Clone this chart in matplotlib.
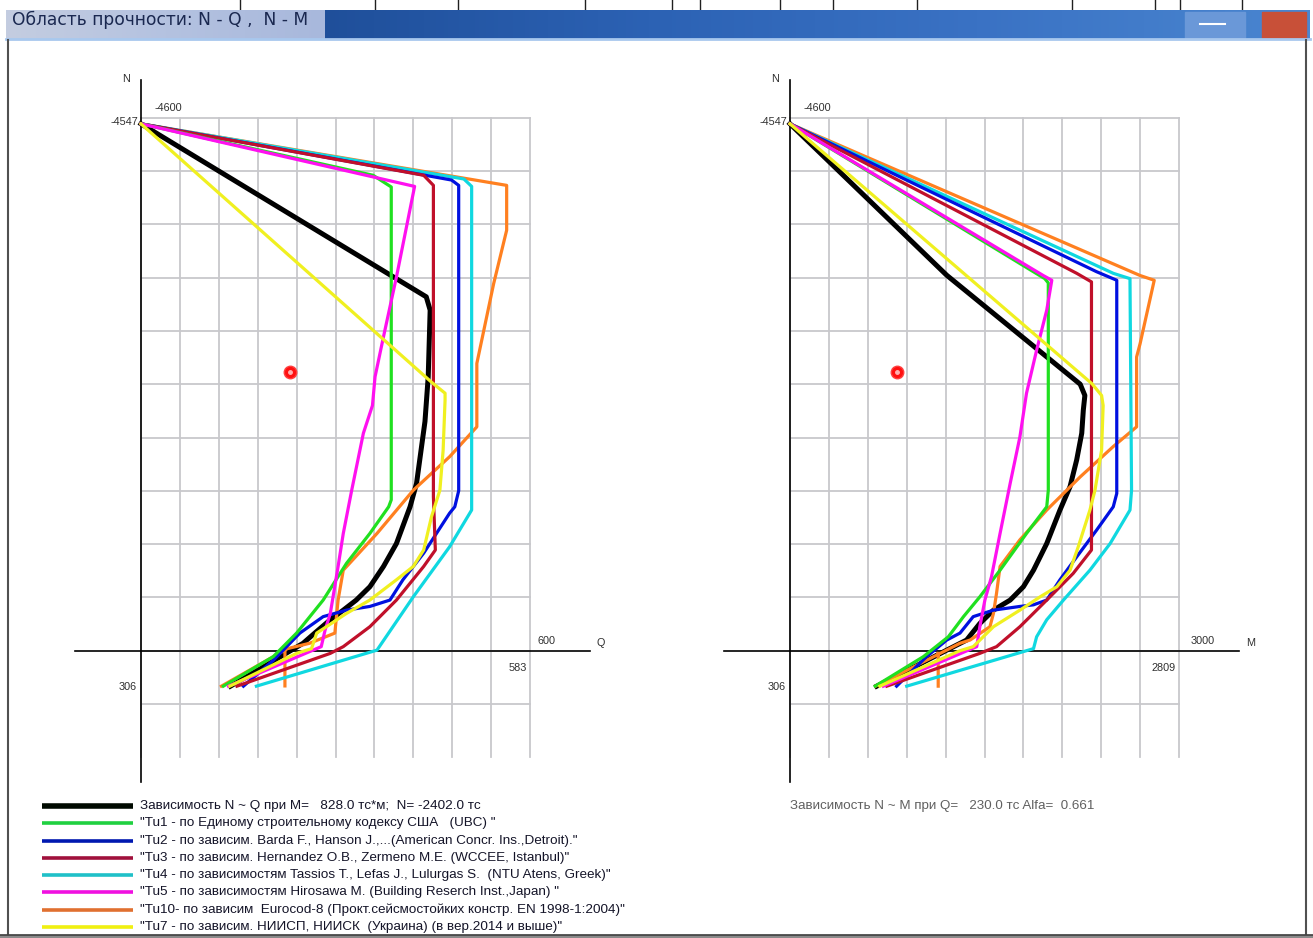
import numpy as np
import matplotlib
matplotlib.use("Agg")
import matplotlib.pyplot as plt
from matplotlib.patches import Rectangle
from matplotlib.colors import LinearSegmentedColormap

plt.rcParams['font.family'] = ['Liberation Sans', 'DejaVu Sans']

# ---------------- data: N ~ Q (left panel) ----------------
q_black = [0, 440, 446, 443, 438, 425, 415, 394, 374, 353, 332, 312, 292, 268, 250, 138]
n_black = [-4547, -3054, -2939, -2364, -1978, -1444, -1242, -925, -727, -552, -437, -350, -267, -152, -64, 306]

q_tu1 = [0, 358, 386, 386, 382, 353, 317, 281, 240, 204, 127]
n_tu1 = [-4547, -4103, -4002, -1302, -1242, -1012, -754, -437, -152, 51, 306]

q_tu2 = [0, 479, 490, 490, 484, 476, 436, 404, 384, 353, 317, 281, 245, 204, 158]
n_tu2 = [-4547, -4062, -4016, -1380, -1242, -1187, -842, -612, -437, -382, -350, -294, -152, 83, 306]

q_tu3 = [0, 436, 451, 451, 454, 436, 394, 353, 312, 292, 148]
n_tu3 = [-4547, -4103, -4016, -1329, -869, -727, -437, -207, -35, 23, 306]

q_tu4 = [0, 498, 510, 510, 476, 420, 364, 178]
n_tu4 = [-4547, -4071, -4007, -1214, -897, -465, -5, 306]

q_tu5 = [0, 422, 394, 374, 361, 357, 343, 325, 312, 304, 292, 284, 278, 135]
n_tu5 = [-4547, -4007, -3225, -2709, -2364, -2116, -1877, -1385, -1012, -727, -322, -179, -35, 306]

q_tu10 = [0, 564, 564, 544, 518, 518, 476, 420, 364, 312, 304, 299, 260, 226, 124, np.nan, 222, 222]
n_tu10 = [-4547, -4016, -3629, -3169, -2479, -1932, -1674, -1385, -1012, -695, -437, -152, -64, -18, 306, np.nan, 0, 304]

q_tu7 = [0, 448, 469, 469, 466, 461, 448, 436, 420, 394, 353, 317, 286, 271, 263, 240, 137]
n_tu7 = [-4547, -2318, -2222, -2162, -1730, -1385, -1155, -869, -727, -612, -437, -322, -207, -152, -18, 23, 306]

# ---------------- data: N ~ M (right panel) ----------------
m_black = [0, 1209, 2238, 2274, 2262, 2250, 2211, 2160, 2082, 1980, 1878, 1800, 1698, 1569, 1464, 1362, 1209, 669]
nm_black = [-4547, -3240, -2300, -2203, -2075, -1877, -1647, -1417, -1214, -925, -695, -552, -437, -350, -235, -92, -5, 306]

m_tu1 = [0, 1965, 1992, 1992, 1980, 1824, 1620, 1464, 1338, 1221, 1029, 657]
nm_tu1 = [-4547, -3211, -3174, -1385, -1242, -1012, -695, -465, -294, -120, 51, 306]

m_tu2 = [0, 2364, 2520, 2520, 2493, 2364, 2211, 2082, 1980, 1878, 1773, 1569, 1413, 1311, 1209, 1053, 822]
nm_tu2 = [-4547, -3271, -3197, -1357, -1242, -1040, -810, -612, -437, -396, -382, -350, -294, -152, -92, 51, 306]

m_tu3 = [0, 2211, 2325, 2325, 2184, 1980, 1773, 1593, 1464, 747]
nm_tu3 = [-4547, -3257, -3183, -869, -667, -437, -207, -35, 23, 306]

m_tu4 = [0, 2493, 2622, 2634, 2622, 2469, 2313, 2109, 1980, 1902, 1878, 900]
nm_tu4 = [-4547, -3257, -3211, -1385, -1214, -925, -695, -437, -267, -120, -18, 306]

m_tu5 = [0, 1953, 2019, 1980, 1902, 1824, 1773, 1698, 1620, 1554, 1503, 1464, 1440, 720]
nm_tu5 = [-4547, -3238, -3197, -2939, -2594, -2222, -1845, -1444, -1012, -639, -437, -207, -35, 306]

m_tu10 = [0, 2700, 2809, 2700, 2673, 2673, 2493, 2238, 1980, 1773, 1620, 1593, 1569, 1542, 1389, 1311, 660,
          np.nan, 1143, 1143]
nm_tu10 = [-4547, -3238, -3197, -2650, -2535, -1932, -1762, -1500, -1214, -957, -727, -497, -322, -207, -92, -64, 306,
           np.nan, 23, 306]

m_tu7 = [0, 2328, 2403, 2415, 2403, 2352, 2313, 2223, 2160, 2058, 1929, 1773, 1569, 1413, 1311, 693]
nm_tu7 = [-4547, -2305, -2203, -2116, -1730, -1385, -1214, -897, -695, -552, -465, -350, -207, -35, 0, 306]

# current load point
q_load, m_load, n_load = 230.0, 828.0, -2402.0

colors = {
    "black": "#000000", "tu1": "#20e020", "tu2": "#0010e0", "tu3": "#c0102a",
    "tu4": "#10d8e0", "tu5": "#ff10f0", "tu10": "#ff8020", "tu7": "#f0f020",
}
legend_colors = ["#000a00", "#20d040", "#0018b0", "#a0103c", "#20c0c8", "#f010e0", "#e07030", "#f0f010"]

legend_texts = [
    "Зависимость N ~ Q при M=   828.0 тс*м;  N= -2402.0 тс",
    "\"Tu1 - по Единому строительному кодексу США   (UBC) \"",
    "\"Tu2 - по зависим. Barda F., Hanson J.,...(American Concr. Ins.,Detroit).\"",
    "\"Tu3 - по зависим. Hernandez O.B., Zermeno M.E. (WCCEE, Istanbul)\"",
    "\"Tu4 - по зависимостям Tassios T., Lefas J., Lulurgas S.  (NTU Atens, Greek)\"",
    "\"Tu5 - по зависимостям Hirosawa M. (Building Reserch Inst.,Japan) \"",
    "\"Tu10- по зависим  Eurocod-8 (Прокт.сейсмостойких констр. EN 1998-1:2004)\"",
    "\"Tu7 - по зависим. НИИСП, НИИСК  (Украина) (в вер.2014 и выше)\"",
]

W, H = 1313, 938
fig = plt.figure(figsize=(W / 100, H / 100), dpi=100)

# ---------------- window frame (pixel coordinates) ----------------
bg = fig.add_axes([0, 0, 1, 1])
bg.set_xlim(0, W)
bg.set_ylim(H, 0)
bg.axis("off")
bg.add_patch(Rectangle((0, 0), W, H, color="white", zorder=0))

# scraps of the desktop above the title bar
for x in [240, 375, 458, 585, 672, 700, 780, 833, 917, 1072, 1155, 1180, 1242]:
    bg.plot([x, x], [0, 10], color="#202020", lw=1.0, zorder=1)

# title bar
grad = np.linspace(0, 1, 256).reshape(1, -1)
blue_cm = LinearSegmentedColormap.from_list("tb", ["#1f4f9a", "#2c62b4", "#3a72c4", "#4a86d0"])
bg.imshow(grad, cmap=blue_cm, extent=(320, 1310, 39, 10), aspect="auto", zorder=1)
left_cm = LinearSegmentedColormap.from_list("tl", ["#c4cde0", "#b4c2e0", "#a8b8dc"])
bg.imshow(grad, cmap=left_cm, extent=(6, 325, 39, 10), aspect="auto", zorder=1)
bg.add_patch(Rectangle((1185, 12), 60, 26, color="#6a98d8", zorder=2))
bg.add_patch(Rectangle((1262, 12), 44, 26, color="#c85038", zorder=2))
bg.plot([1200, 1225], [24, 24], color="white", lw=1.5, zorder=3)
bg.plot([6, 1310], [39.5, 39.5], color="#a8c8ee", lw=2, zorder=2)
bg.text(12, 20, "Область прочности: N - Q ,  N - M", fontsize=12.3, color="#1a2850",
        family="DejaVu Sans", va="center", ha="left", zorder=3)

# frame borders
bg.plot([8, 8], [40, H], color="#505050", lw=1.5, zorder=2)
bg.plot([1306, 1306], [40, H], color="#505050", lw=1.5, zorder=2)
bg.add_patch(Rectangle((0, 935), W, 3, color="#8a8a8a", zorder=2))
bg.plot([0, W], [935, 935], color="#404040", lw=1.2, zorder=3)


def make_panel(origin_px, x_per_px, x_step):
    """Axes whose data units map linearly onto the pixel grid of the window."""
    px0, px1, py0, py1 = origin_px - 81, origin_px + 479, 60, 790
    ax = fig.add_axes([px0 / W, 1 - py1 / H, (px1 - px0) / W, (py1 - py0) / H])
    ax.set_facecolor("none")
    y0 = 650.7
    n_per_px = 460 / 53.3
    ax.set_xlim((px0 - origin_px) * x_per_px, (px1 - origin_px) * x_per_px)
    ax.set_ylim((py1 - y0) * n_per_px, (py0 - y0) * n_per_px)
    ax.axis("off")
    xmax = 10 * x_step
    for i in range(11):
        ax.plot([i * x_step, i * x_step], [-4600, 920], color="#c8c8cc", lw=1.3, zorder=1)
    for j in range(-10, 2):
        ax.plot([0, xmax], [j * 460, j * 460], color="#c8c8cc", lw=1.3, zorder=1)
    ax.plot([-66 * x_per_px, 449 * x_per_px], [0, 0], color="black", lw=1.2, zorder=2)
    ax.plot([0, 0], [(80 - y0) * n_per_px, (782 - y0) * n_per_px], color="black", lw=1.2, zorder=2)
    return ax


ax1 = make_panel(141, 60 / 38.9, 60)
ax2 = make_panel(790, 300 / 38.9, 300)

left_series = [
    (q_tu10, n_tu10, "tu10"), (q_tu4, n_tu4, "tu4"), (q_tu2, n_tu2, "tu2"), (q_tu3, n_tu3, "tu3"),
    (q_tu1, n_tu1, "tu1"), (q_tu5, n_tu5, "tu5"), (q_tu7, n_tu7, "tu7"),
]
right_series = [
    (m_tu10, nm_tu10, "tu10"), (m_tu4, nm_tu4, "tu4"), (m_tu2, nm_tu2, "tu2"), (m_tu3, nm_tu3, "tu3"),
    (m_tu1, nm_tu1, "tu1"), (m_tu5, nm_tu5, "tu5"), (m_tu7, nm_tu7, "tu7"),
]
for ax, series, xb, yb, xl in [(ax1, left_series, q_black, n_black, q_load),
                               (ax2, right_series, m_black, nm_black, m_load)]:
    for xs, ys, key in series:
        ax.plot(xs, ys, color=colors[key], lw=2.3, zorder=4, solid_joinstyle="round")
    ax.plot(xb, yb, color=colors["black"], lw=3.6, zorder=3, solid_joinstyle="round")
    ax.plot([xl], [n_load], "o", ms=9, color="#ff1010", mec="#ff4040", zorder=6)
    ax.plot([xl], [n_load], "o", ms=2.5, color="#ffb0b0", zorder=7)

# axis annotations (pixel coordinates)
lab = dict(fontsize=7.8, color="#303030", zorder=5)
for ox in (0, 649):
    bg.text(126 + ox, 79, "N", ha="center", va="center", **lab)
    bg.text(138 + ox, 122, "-4547", ha="right", va="center", **lab)
    bg.text(155 + ox, 108, "-4600", ha="left", va="center", **lab)
    bg.text(137 + ox, 687, "306", ha="right", va="center", **lab)
bg.text(556, 641, "600", ha="right", va="center", **lab)
bg.text(527, 668, "583", ha="right", va="center", **lab)
bg.text(601, 643, "Q", ha="center", va="center", **lab)
bg.text(1215, 641, "3000", ha="right", va="center", **lab)
bg.text(1176, 668, "2809", ha="right", va="center", **lab)
bg.text(1251, 643, "M", ha="center", va="center", **lab)

# legend
for i, (txt, col) in enumerate(zip(legend_texts, legend_colors)):
    y = 806 + i * 17.3
    bg.plot([42, 133], [y, y], color=col, lw=4.0 if i == 0 else 2.6, solid_capstyle="butt", zorder=5)
    bg.text(140, y, txt, fontsize=9.7, color="#141428", va="center", ha="left", zorder=5)

bg.text(790, 806, "Зависимость N ~ M при Q=   230.0 тс Alfa=  0.661", fontsize=9.6,
        color="#606060", va="center", ha="left", zorder=5)

fig.savefig("out.png", dpi=100)
